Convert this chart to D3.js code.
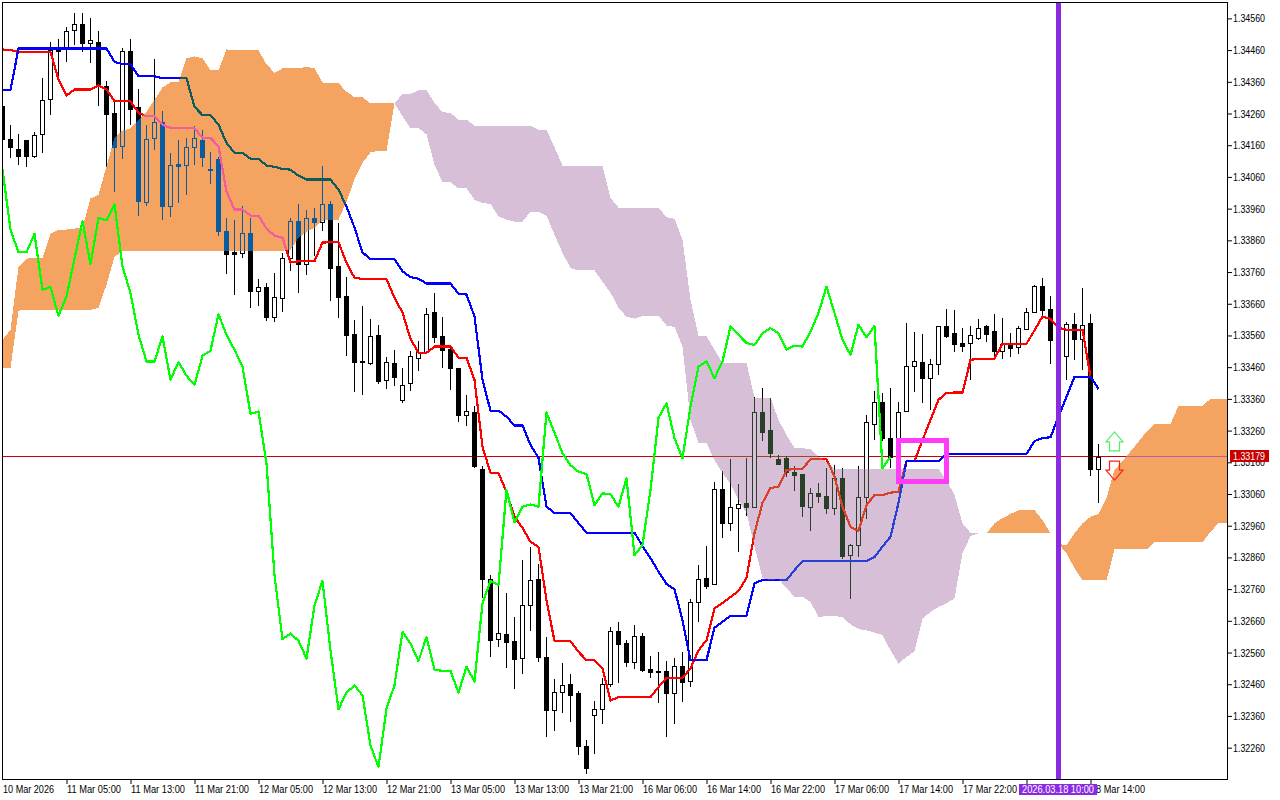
<!DOCTYPE html>
<html><head><meta charset="utf-8"><script src="https://d3js.org/d3.v7.min.js"></script>
<style>html,body{margin:0;padding:0;background:#fff}svg{display:block;isolation:isolate}text{font-family:"Liberation Sans",Arial,sans-serif;font-size:11px;fill:#000}</style>
</head><body><div id="c"></div><script>
// All series are in points above 1.00000 (1 point = 0.00001), one entry per hourly bar.
const BASE = 1, POINT = 0.00001;
const high=[34288,34225,34194,34178,34203,34371,34484,34494,34532,34576,
34576,34560,34519,34361,34295,34468,34494,34336,34225,34431,
34269,34137,34175,34184,34222,34209,34140,34124,33932,33925,
33969,33932,33739,33726,33758,33821,33932,33976,33957,33963,
34096,33985,33916,33745,33609,33654,33613,33594,33493,33515,
33458,33512,33543,33647,33695,33619,33530,33458,33373,33338,
33148,32804,32773,32747,32671,32852,32893,32839,32608,32476,
32526,32492,32438,32283,32406,32479,32640,32656,32599,32646,
32621,32548,32561,32533,32542,32561,32728,32836,32896,33098,
33133,33170,33092,33174,33366,33395,33363,33183,33180,33148,
33123,33079,33095,33142,33151,33142,32902,33148,33309,33385,
33379,33395,33350,33600,33572,33565,33486,33590,33644,33641,
33584,33590,33613,33594,33628,33616,33568,33590,33647,33720,
33742,33685,33594,33603,33632,33710,33628,33218];
const low=[34156,34124,34102,34096,34124,34140,34257,34364,34427,34478,
34456,34424,34288,34096,34017,34121,34228,33941,33973,34149,
33928,33938,33982,34007,34102,34096,34042,33878,33758,33692,
33808,33650,33657,33609,33606,33638,33767,33698,33755,33815,
33894,33673,33619,33499,33385,33376,33470,33410,33395,33404,
33350,33388,33452,33505,33540,33461,33392,33290,33278,33145,
32735,32548,32580,32514,32447,32495,32630,32533,32296,32315,
32372,32343,32239,32179,32242,32337,32454,32466,32517,32510,
32501,32482,32403,32296,32337,32406,32454,32659,32763,32776,
32924,32946,32880,32994,33019,33230,33177,33155,33117,33073,
32990,32946,33035,33000,32997,32858,32732,32864,32984,33234,
33230,33145,33136,33322,33385,33350,33328,33439,33556,33512,
33512,33423,33549,33543,33499,33489,33496,33505,33581,33635,
33622,33474,33467,33423,33486,33455,33120,33035];
const open=[34285,34181,34149,34175,34127,34194,34307,34465,34462,34522,
34541,34481,34487,34348,34263,34156,34456,34279,33982,34184,
34232,33969,34102,34099,34153,34178,34086,34115,33890,33824,
33821,33884,33701,33714,33619,33679,33805,33922,33786,33932,
33919,33976,33780,33685,33565,33480,33474,33562,33420,33474,
33357,33410,33489,33508,33635,33559,33518,33458,33309,33319,
33139,32792,32602,32618,32596,32542,32709,32792,32545,32378,
32435,32460,32432,32264,32362,32381,32460,32627,32589,32529,
32612,32507,32501,32501,32432,32517,32469,32719,32795,32776,
33076,32968,33016,33032,33019,33319,33262,33170,33174,33129,
33123,33019,33063,33054,33016,33110,32867,32899,33050,33281,
33350,33237,33161,33322,33464,33477,33426,33470,33590,33568,
33537,33537,33553,33590,33575,33512,33534,33524,33581,33635,
33717,33644,33546,33496,33597,33549,33600,33139];
const close=[34181,34153,34127,34127,34191,34304,34459,34456,34519,34541,
34481,34491,34352,34260,34153,34456,34273,33985,34181,34232,
33969,34099,34096,34153,34184,34124,34083,33890,33818,33818,
33884,33701,33714,33619,33682,33805,33922,33786,33932,33919,
33976,33774,33682,33562,33477,33477,33559,33417,33477,33429,
33404,33496,33508,33628,33556,33515,33458,33309,33322,33148,
32792,32599,32621,32593,32539,32709,32788,32545,32378,32435,
32457,32425,32264,32195,32381,32460,32627,32586,32529,32612,
32504,32498,32498,32432,32517,32466,32719,32792,32769,33076,
32968,33019,33028,33019,33319,33256,33189,33155,33129,33120,
33022,33063,33054,33016,33110,32864,32899,33050,33287,33350,
33237,33177,33319,33464,33480,33426,33470,33590,33559,33534,
33527,33562,33584,33565,33512,33534,33521,33584,33635,33717,
33641,33546,33496,33597,33549,33594,33139,33177];
const tenkan=[34462,34460,34454,34454,34454,34454,34454,34367,34317,34336,
34336,34336,34349,34336,34299,34299,34299,34262,34251,34251,
34225,34214,34214,34214,34214,34183,34183,34157,34014,33957,
33957,33938,33938,33897,33875,33868,33790,33794,33794,33794,
33853,33854,33854,33789,33742,33738,33738,33738,33738,33679,
33632,33549,33505,33505,33525,33525,33525,33490,33490,33420,
33209,33126,33126,33067,32988,32953,32909,32893,32725,32596,
32596,32596,32562,32536,32536,32510,32409,32419,32419,32419,
32419,32419,32451,32480,32480,32480,32510,32567,32599,32700,
32716,32735,32754,32795,32937,33032,33079,33083,33136,33139,
33139,33170,33170,33170,33115,33020,32956,32944,33025,33057,
33057,33064,33067,33164,33164,33230,33294,33357,33379,33380,
33380,33483,33487,33487,33487,33534,33534,33534,33534,33576,
33620,33612,33584,33578,33578,33578,33430,33391];
const kijun=[34334,34334,34465,34465,34465,34465,34465,34465,34465,34465,
34465,34465,34465,34465,34423,34416,34416,34378,34378,34378,
34371,34371,34371,34371,34281,34255,34255,34225,34167,34136,
34136,34117,34117,34096,34092,34085,34083,34064,34052,34052,
34052,34052,34020,33967,33900,33822,33801,33801,33801,33801,
33762,33744,33739,33724,33724,33724,33724,33692,33689,33620,
33420,33323,33323,33304,33276,33276,33215,33174,33020,33000,
33000,33000,32968,32938,32938,32938,32938,32938,32938,32938,
32896,32858,32815,32776,32760,32662,32536,32536,32536,32638,
32657,32676,32676,32676,32779,32788,32788,32788,32788,32820,
32848,32848,32848,32848,32848,32848,32848,32848,32848,32861,
32894,32925,33032,33164,33164,33164,33164,33164,33185,33186,
33186,33186,33186,33186,33186,33186,33186,33186,33186,33227,
33236,33239,33304,33367,33430,33430,33430,33391];
const chikou=[34083,33894,33822,33822,33881,33704,33713,33622,33683,33802,
33920,33785,33931,33923,33973,33778,33694,33562,33478,33478,
33557,33420,33476,33433,33404,33496,33512,33627,33562,33515,
33462,33313,33320,33157,32804,32602,32620,32597,32541,32709,
32786,32567,32381,32434,32456,32425,32267,32199,32383,32457,
32625,32588,32533,32609,32506,32502,32502,32434,32515,32469,
32716,32786,32773,33073,32971,33020,33027,33020,33317,33253,
33189,33151,33130,33123,33025,33062,33059,33020,33110,32867,
32899,33073,33300,33346,33236,33173,33336,33462,33478,33425,
33478,33588,33562,33536,33530,33567,33583,33567,33515,33528,
33525,33572,33631,33714,33631,33546,33499,33594,33554,33590,
33141,33178];
const spanA=[33546,33578,33777,33802,33805,33805,33881,33894,33894,33897,
33900,33992,34004,34093,34184,34206,34213,34241,34266,34304,
34342,34358,34358,34434,34440,34434,34396,34396,34462,34459,
34459,34459,34459,34415,34389,34402,34402,34402,34408,34402,
34358,34355,34355,34329,34311,34311,34292,34292,34292,34292,
34251,34214,34214,34194,34099,34043,34043,34024,34024,33988,
33978,33975,33936,33925,33919,33919,33950,33950,33938,33878,
33820,33773,33765,33765,33765,33730,33695,33647,33619,33613,
33622,33622,33622,33591,33587,33525,33294,33222,33221,33167,
33126,33092,33041,33000,32894,32795,32788,32792,32763,32736,
32736,32720,32672,32675,32675,32672,32649,32634,32630,32623,
32615,32567,32525,32546,32564,32667,32688,32704,32715,32731,
32873,32927,32936,32936,32967,32984,32997,33009,33009,33009,
32978,32936,32902,32899,32936,32967,32988,32997,33047,33136,
33164,33194,33225,33257,33281,33281,33281,33338,33339,33339,
33339,33360,33360,33360];
const spanB=[33458,33458,33638,33641,33641,33641,33641,33641,33641,33641,
33641,33641,33647,33720,33808,33827,33827,33827,33827,33827,
33827,33827,33827,33827,33827,33827,33827,33827,33827,33827,
33827,33827,33827,33827,33827,33827,33831,33868,33887,33900,
33922,33925,33925,33982,34052,34105,34137,34143,34143,34292,
34322,34322,34333,34333,34294,34264,34262,34241,34241,34222,
34222,34222,34222,34222,34222,34222,34222,34209,34209,34153,
34096,34093,34093,34093,34093,34093,33994,33963,33963,33963,
33963,33963,33963,33933,33928,33862,33673,33559,33557,33515,
33473,33473,33473,33473,33364,33364,33364,33294,33246,33205,
33204,33202,33178,33162,33139,33139,33139,33139,33139,33139,
33139,33139,33139,33139,33139,33139,33139,33139,33104,33057,
32967,32938,32937,32936,32936,32936,32936,32936,32936,32936,
32936,32936,32902,32874,32826,32788,32788,32788,32788,32885,
32885,32885,32885,32885,32908,32908,32908,32908,32908,32908,
32908,32941,32968,32968];
const priceTicks=["1.34560","1.34460","1.34360","1.34260","1.34160","1.34060","1.33960","1.33860","1.33760","1.33660","1.33560","1.33460","1.33360","1.33260","1.33160","1.33060","1.32960","1.32860","1.32760","1.32660","1.32560","1.32460","1.32360","1.32260"];
const timeLabels=["10 Mar 2026","11 Mar 05:00","11 Mar 13:00","11 Mar 21:00","12 Mar 05:00","12 Mar 13:00","12 Mar 21:00","13 Mar 05:00","13 Mar 13:00","13 Mar 21:00","16 Mar 06:00","16 Mar 14:00","16 Mar 22:00","17 Mar 06:00","17 Mar 14:00","17 Mar 22:00","18 Mar 06:00","18 Mar 14:00"];
const timeIndex=[0,8,16,24,32,40,48,56,64,72,80,88,96,104,112,120,128,136];
const lastPrice=1.33179, lastPriceLabel="1.33179";
const markerBar=132, markerLabel="2026.03.18 10:00";
const boxBars=[112,118], boxPrices=[1.33229,1.33098];
const arrowBar=139, upArrowTip=1.33256, downArrowTip=1.33104;

const W=1280,H=800,L=2,T=2,R=1227,B=779;
const price=v=>BASE+v*POINT;
const x=d3.scaleLinear().domain([0,153]).range([2.5,1226.5]);
const y=d3.scaleLinear().domain([1.34618,1.32158]).range([0,780]);
const svg=d3.select("#c").append("svg").attr("width",W).attr("height",H);
svg.append("rect").attr("width",W).attr("height",H).attr("fill","#fff");
svg.append("defs").append("clipPath").attr("id","plot").append("rect").attr("x",L).attr("y",T).attr("width",R-L).attr("height",B-T);
const plot=svg.append("g").attr("clip-path","url(#plot)");
// backdrop inside the clipped group: the cloud's blend can only see this group's contents
plot.append("rect").attr("x",L).attr("y",T).attr("width",R-L).attr("height",B-T).attr("fill","#fff");

// price line beneath the candles
plot.append("line").attr("x1",L).attr("x2",R).attr("y1",Math.round(y(lastPrice))+.5).attr("y2",Math.round(y(lastPrice))+.5).attr("stroke","#cc0000").attr("shape-rendering","crispEdges");

// candles
const bars=d3.range(high.length);
const cg=plot.append("g").attr("shape-rendering","crispEdges");
cg.selectAll("line").data(bars).join("line")
 .attr("x1",i=>x(i)).attr("x2",i=>x(i))
 .attr("y1",i=>Math.round(y(price(high[i])))).attr("y2",i=>Math.round(y(price(low[i])))+1)
 .attr("stroke","#000");
cg.selectAll("rect").data(bars).join("rect")
 .attr("x",i=>close[i]>open[i]?x(i)-2:x(i)-2.5)
 .attr("width",i=>close[i]>open[i]?4:5)
 .attr("y",i=>{const t=Math.round(y(price(Math.max(open[i],close[i]))));return close[i]>open[i]?t+.5:t;})
 .attr("height",i=>{const t=Math.round(y(price(Math.max(open[i],close[i])))),b=Math.round(y(price(Math.min(open[i],close[i]))));return Math.max(close[i]>open[i]?b-t:b-t+1,1);})
 .attr("fill",i=>close[i]>open[i]?"#fff":"#000")
 .attr("stroke",i=>close[i]>open[i]?"#000":"none");

const mkLine=arr=>d3.line().x((d,i)=>x(i)).y(d=>y(price(d)))(arr);
const drawLine=(arr,color)=>plot.append("path").attr("d",mkLine(arr)).attr("fill","none").attr("stroke",color).attr("stroke-width",2.2).attr("stroke-linejoin","round").attr("shape-rendering","crispEdges");
drawLine(tenkan,"#ff0000");
drawLine(kijun,"#0000ff");

// cloud: difference blending reproduces the terminal's XOR fill over what is beneath
const cloud=(test,color)=>plot.append("path")
 .attr("d",d3.area().defined(i=>test(i)).x(i=>x(i)).y0(i=>y(price(spanA[i]))).y1(i=>y(price(spanB[i])))(d3.range(spanA.length)))
 .attr("fill",color).style("mix-blend-mode","difference").attr("shape-rendering","crispEdges");
cloud(i=>spanA[i]>=spanB[i],"#0b5b9f");
cloud(i=>spanB[i]>=spanA[i],"#274027");

drawLine(chikou,"#00ff00");

// signal arrows
const arrow=(tipY,dir,stroke,fill)=>{
 const cx=x(arrowBar),p=[[0,0],[8.5,10*dir],[5,10*dir],[5,19*dir],[-5,19*dir],[-5,10*dir],[-8.5,10*dir]];
 plot.append("polygon").attr("points",p.map(([a,b])=>[cx+a,tipY+b].join(",")).join(" ")).attr("fill",fill).attr("stroke",stroke).attr("stroke-width",1.2);
};
arrow(y(upArrowTip),1,"#55ee66","#fff");
arrow(y(downArrowTip),-1,"#ff2020","none");

// box and time marker
plot.append("rect").attr("x",x(boxBars[0])).attr("width",x(boxBars[1])-x(boxBars[0])).attr("y",y(boxPrices[0])).attr("height",y(boxPrices[1])-y(boxPrices[0])).attr("fill","none").attr("stroke","#ff3df8").attr("stroke-width",5).attr("shape-rendering","crispEdges");
plot.append("line").attr("x1",x(markerBar)).attr("x2",x(markerBar)).attr("y1",T).attr("y2",B).attr("stroke","#8a2be2").attr("stroke-width",5).attr("shape-rendering","crispEdges");

// frame
svg.append("rect").attr("x",L+.5).attr("y",T+.5).attr("width",R-L).attr("height",B-T).attr("fill","none").attr("stroke","#000").attr("shape-rendering","crispEdges");

// axes
const ya=svg.append("g").attr("transform",`translate(${R+1},0)`).call(d3.axisRight(y).tickValues(priceTicks.map(Number)).tickFormat(d3.format(".5f")).tickSize(4).tickPadding(1));
ya.select(".domain").remove();
ya.selectAll("line").attr("stroke","#000");
ya.selectAll("text").attr("fill","#000").attr("textLength",32).attr("lengthAdjust","spacingAndGlyphs");
ya.attr("font-family",null).attr("font-size",null);
const xa=svg.append("g").attr("transform",`translate(0,${B+1})`).call(d3.axisBottom(x).tickValues(timeIndex).tickFormat((d,i)=>timeLabels[i]).tickSize(4).tickPadding(1));
xa.select(".domain").remove();
xa.selectAll(".tick").filter((d,i)=>i===0).select("line").remove();
xa.selectAll("line").attr("stroke","#000");
xa.selectAll("text").attr("text-anchor","start").attr("x",0).attr("dy",null).attr("y",13).attr("fill","#000").attr("textLength",(d,i)=>i===0?51:54).attr("lengthAdjust","spacingAndGlyphs");
xa.attr("font-family",null).attr("font-size",null);

// current price tag
const py=Math.round(y(lastPrice));
svg.append("rect").attr("x",1230).attr("y",py-6).attr("width",39).attr("height",12).attr("fill","#c80000");
svg.append("text").attr("x",1233).attr("y",py+4).attr("textLength",32).attr("lengthAdjust","spacingAndGlyphs").style("fill","#fff").text(lastPriceLabel);

// time marker tag
const mx=x(markerBar);
svg.append("rect").attr("x",mx-39.5).attr("y",784).attr("width",78).attr("height",11).attr("fill","#8a2be2");
svg.append("text").attr("x",mx-36.5).attr("y",793).attr("textLength",72).attr("lengthAdjust","spacingAndGlyphs").style("fill","#fff").text(markerLabel);
</script></body></html>
